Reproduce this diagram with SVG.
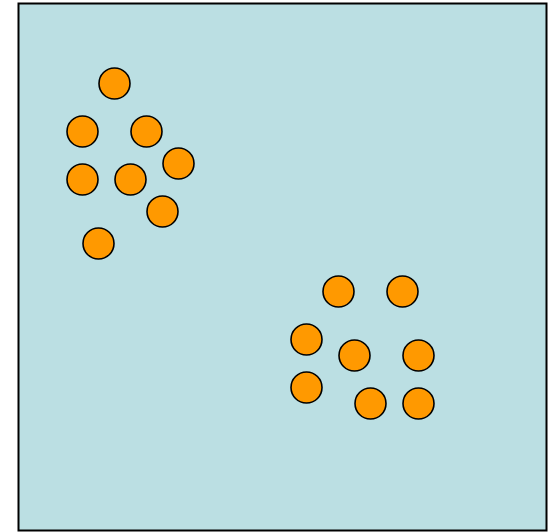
<svg xmlns="http://www.w3.org/2000/svg" width="553" height="532" viewBox="0 0 553 532">
<style>
.bg{fill:#bbdfe3;stroke:#000;stroke-width:2}
.dot{fill:#ff9900;stroke:#000;stroke-width:1.6}
</style>
<rect id="area" class="bg" x="18.5" y="3.5" width="528" height="527"/>
<g id="clusterA" transform="translate(18.5,3.5)">
<circle class="dot" cx="96" cy="80" r="15.5"/>
<circle class="dot" cx="64" cy="128" r="15.5"/>
<circle class="dot" cx="128" cy="128" r="15.5"/>
<circle class="dot" cx="160" cy="160" r="15.5"/>
<circle class="dot" cx="64" cy="176" r="15.5"/>
<circle class="dot" cx="112" cy="176" r="15.5"/>
<circle class="dot" cx="144" cy="208" r="15.5"/>
<circle class="dot" cx="80" cy="240" r="15.5"/>
</g>
<g id="clusterB" transform="translate(18.5,3.5)">
<circle class="dot" cx="320" cy="288" r="15.5"/>
<circle class="dot" cx="384" cy="288" r="15.5"/>
<circle class="dot" cx="288" cy="336" r="15.5"/>
<circle class="dot" cx="336" cy="352" r="15.5"/>
<circle class="dot" cx="400" cy="352" r="15.5"/>
<circle class="dot" cx="288" cy="384" r="15.5"/>
<circle class="dot" cx="352" cy="400" r="15.5"/>
<circle class="dot" cx="400" cy="400" r="15.5"/>
</g>
</svg>
